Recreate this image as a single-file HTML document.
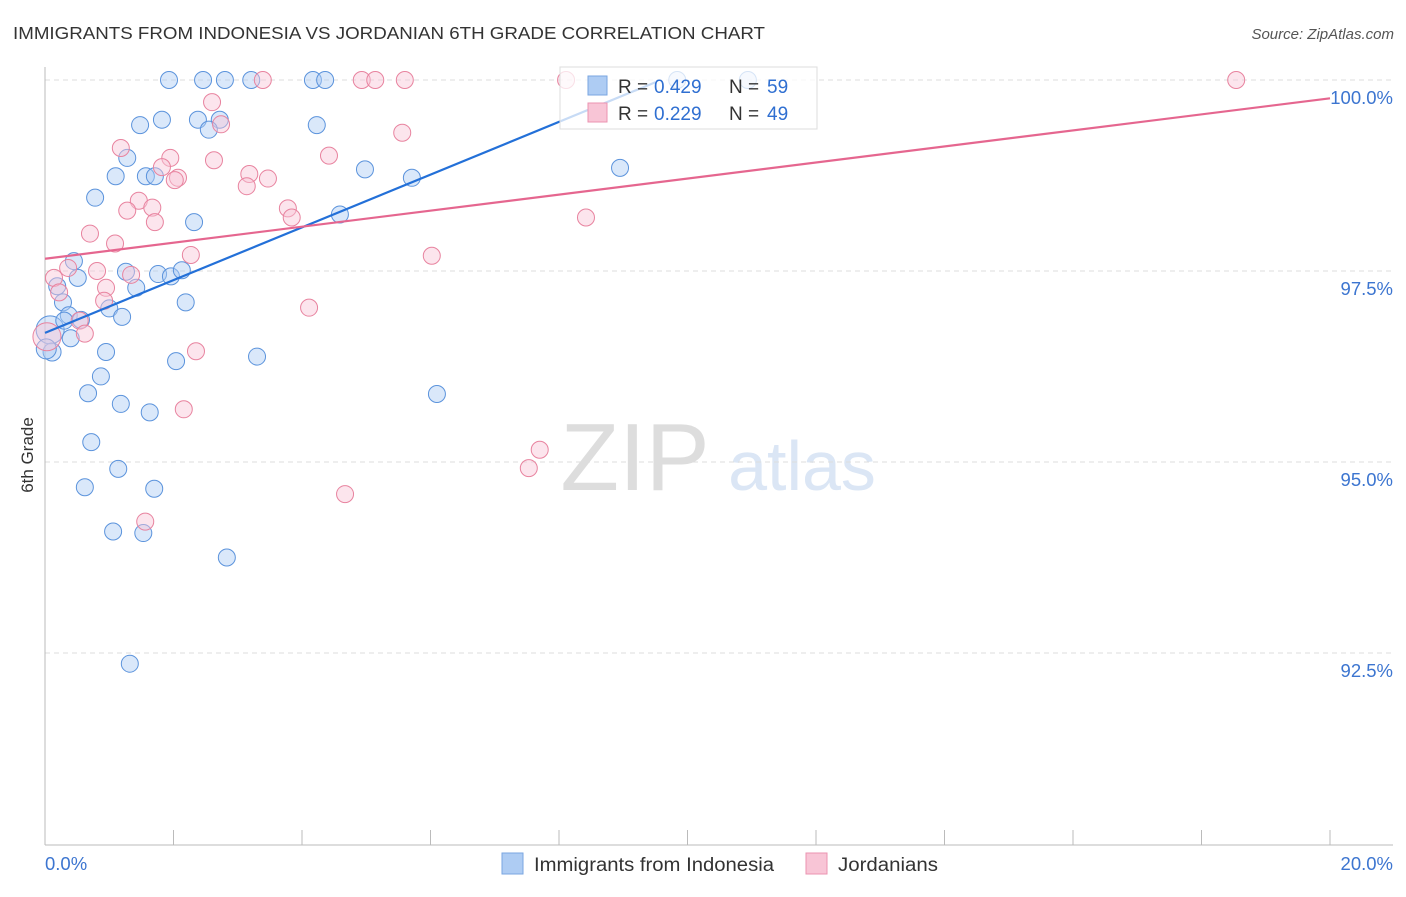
<!DOCTYPE html>
<html><head><meta charset="utf-8"><style>
body{margin:0;background:#fff;font-family:"Liberation Sans",sans-serif;}
svg text{font-family:"Liberation Sans",sans-serif;}
</style></head><body>
<svg id="c" width="1406" height="892">
<text x="13" y="39" font-size="17.5" fill="#333" textLength="752" lengthAdjust="spacingAndGlyphs">IMMIGRANTS FROM INDONESIA VS JORDANIAN 6TH GRADE CORRELATION CHART</text>
<text x="1394" y="39" font-size="15" fill="#555" text-anchor="end" font-style="italic">Source: ZipAtlas.com</text>
<text x="33" y="455" font-size="17" fill="#333" text-anchor="middle" transform="rotate(-90 33 455)">6th Grade</text>
<g><text x="635" y="490" font-size="96" fill="#ddd" font-family="Liberation Serif" text-anchor="middle">ZIP</text><text x="802" y="490" font-size="70" fill="#dbe6f5" text-anchor="middle">atlas</text></g>
<g id="grid"></g><g id="pts"></g><g id="lines"></g>
<g>
<rect x="560" y="67" width="257" height="62" fill="#fff" fill-opacity="0.75" stroke="#ddd"/>
<rect x="588" y="76" width="19" height="19" fill="#aeccf3" stroke="#7aa6e0"/>
<rect x="588" y="103" width="19" height="19" fill="#f8c5d6" stroke="#eb93b0"/>
<text x="618" y="93" font-size="19" fill="#333">R = </text><text x="654" y="93" font-size="19" fill="#2f6fd1">0.429</text>
<text x="729" y="93" font-size="19" fill="#333">N = </text><text x="767" y="93" font-size="19" fill="#2f6fd1">59</text>
<text x="618" y="120" font-size="19" fill="#333">R = </text><text x="654" y="120" font-size="19" fill="#2f6fd1">0.229</text>
<text x="729" y="120" font-size="19" fill="#333">N = </text><text x="767" y="120" font-size="19" fill="#2f6fd1">49</text>
</g>
<g>
<rect x="502" y="853" width="21" height="21" fill="#aeccf3" stroke="#7aa6e0"/>
<text x="534" y="871" font-size="19" fill="#333" textLength="240" lengthAdjust="spacingAndGlyphs">Immigrants from Indonesia</text>
<rect x="806" y="853" width="21" height="21" fill="#f8c5d6" stroke="#eb93b0"/>
<text x="838" y="871" font-size="19" fill="#333" textLength="100" lengthAdjust="spacingAndGlyphs">Jordanians</text>
</g>
</svg>
<script>
const yTicks=[100,97.5,95,92.5];
const yTickLabels=["100.0%","97.5%","95.0%","92.5%"];
const xTickLabels=["0.0%","20.0%"];
const blueX=[1.93,2.46,2.80,3.21,4.17,4.36,10.94,9.84,1.82,2.38,2.72,2.55,4.23,1.48,1.28,4.98,1.10,1.57,1.71,5.71,8.95,0.78,2.32,4.59,0.45,1.26,1.76,1.96,2.13,0.51,0.19,1.42,0.28,2.19,1.00,0.37,0.56,0.08,0.11,0.95,3.30,2.04,0.87,0.67,6.10,1.18,1.63,0.72,1.14,0.62,1.70,1.06,1.53,2.83,1.32,0.02,0.30,0.40,1.20];
const blueY=[100,100,100,100,100,100,100,100,99.48,99.48,99.48,99.35,99.41,99.41,98.98,98.83,98.74,98.74,98.74,98.72,98.85,98.46,98.14,98.24,97.63,97.49,97.46,97.43,97.51,97.41,97.30,97.28,97.09,97.09,97.01,96.92,96.86,96.73,96.44,96.44,96.38,96.32,96.12,95.90,95.89,95.76,95.65,95.26,94.91,94.67,94.65,94.09,94.07,93.75,92.36,96.48,96.85,96.62,96.90];
const blueR=[8.5,8.5,8.5,8.5,8.5,8.5,8.5,8.5,8.5,8.5,8.5,8.5,8.5,8.5,8.5,8.5,8.5,8.5,8.5,8.5,8.5,8.5,8.5,8.5,8.5,8.5,8.5,8.5,8.5,8.5,8.5,8.5,8.5,8.5,8.5,8.5,8.5,14,9,8.5,8.5,8.5,8.5,8.5,8.5,8.5,8.5,8.5,8.5,8.5,8.5,8.5,8.5,8.5,8.5,10,8.5,8.5,8.5];
const pinkX=[3.39,4.93,5.14,5.60,8.11,18.54,2.60,2.74,5.56,1.18,1.95,1.82,2.63,4.42,2.07,2.02,3.18,3.47,3.14,1.46,1.67,1.28,1.71,3.78,3.84,8.42,0.70,1.09,6.02,2.27,0.14,0.36,0.81,1.34,0.22,0.95,0.92,4.11,0.54,0.62,0.03,2.35,2.16,7.70,7.53,4.67,1.56];
const pinkY=[100,100,100,100,100,100,99.71,99.42,99.31,99.11,98.98,98.86,98.95,99.01,98.72,98.69,98.77,98.71,98.61,98.42,98.33,98.29,98.14,98.32,98.20,98.20,97.99,97.86,97.70,97.71,97.41,97.54,97.50,97.45,97.22,97.28,97.11,97.02,96.85,96.68,96.64,96.45,95.69,95.16,94.92,94.58,94.22];
const pinkR=[8.5,8.5,8.5,8.5,8.5,8.5,8.5,8.5,8.5,8.5,8.5,8.5,8.5,8.5,8.5,8.5,8.5,8.5,8.5,8.5,8.5,8.5,8.5,8.5,8.5,8.5,8.5,8.5,8.5,8.5,8.5,8.5,8.5,8.5,8.5,8.5,8.5,8.5,8.5,8.5,14,8.5,8.5,8.5,8.5,8.5,8.5];
const blueTrend=[[0,96.69],[9.5,99.97]];
const pinkTrend=[[0,97.66],[20,99.76]];
const NS="http://www.w3.org/2000/svg";
const xs=v=>45+v*64.25, ys=v=>80+(100-v)*76.4;
function mk(t,a,p){const e=document.createElementNS(NS,t);for(const k in a)e.setAttribute(k,a[k]);p.appendChild(e);return e;}
const g=document.getElementById('grid');
yTicks.forEach((t,i)=>{
 const l=mk('line',{x1:45,x2:1393,y1:ys(t),y2:ys(t),stroke:'#ddd','stroke-dasharray':'5,4'},g);
 
 
 const tx=mk('text',{x:1393,y:ys(t)+24,'font-size':18.5,fill:'#3c75d0','text-anchor':'end'},g);
 tx.textContent=yTickLabels[i];
 
 
});
const ax=mk('line',{x1:45,x2:45,y1:67,y2:845,stroke:'#bbb'},g);


const bx=mk('line',{x1:45,x2:1393,y1:845,y2:845,stroke:'#bbb'},g);


for(let i=0;i<=10;i++){const t=mk('line',{x1:xs(i*2),x2:xs(i*2),y1:830,y2:845,stroke:'#bbb'},g);
 
 }
[[0,'start',45],[20,'end',1393]].forEach((d,i)=>{const t=mk('text',{x:d[2],y:870,'font-size':18.5,fill:'#3c75d0','text-anchor':d[1]},g);t.textContent=xTickLabels[i];
 
 });
const p=document.getElementById('pts');
function dots(X,Y,R,f,s,n){X.forEach((x,i)=>{const c=mk('circle',{cx:xs(x),cy:ys(Y[i]),r:R[i],fill:f,'fill-opacity':0.45,stroke:s,'stroke-width':1},p);
 
 });}
dots(blueX,blueY,blueR,'#aeccf3','#5b93dc','indonesia-point');
dots(pinkX,pinkY,pinkR,'#f8c5d6','#e8839f','jordanian-point');
const L=document.getElementById('lines');
const b=mk('line',{x1:xs(blueTrend[0][0]),y1:ys(blueTrend[0][1]),x2:xs(blueTrend[1][0]),y2:ys(blueTrend[1][1]),stroke:'#2370d8','stroke-width':2.2},L);


const q=mk('line',{x1:xs(pinkTrend[0][0]),y1:ys(pinkTrend[0][1]),x2:xs(pinkTrend[1][0]),y2:ys(pinkTrend[1][1]),stroke:'#e5668f','stroke-width':2.2},L);


</script>
</body></html>
